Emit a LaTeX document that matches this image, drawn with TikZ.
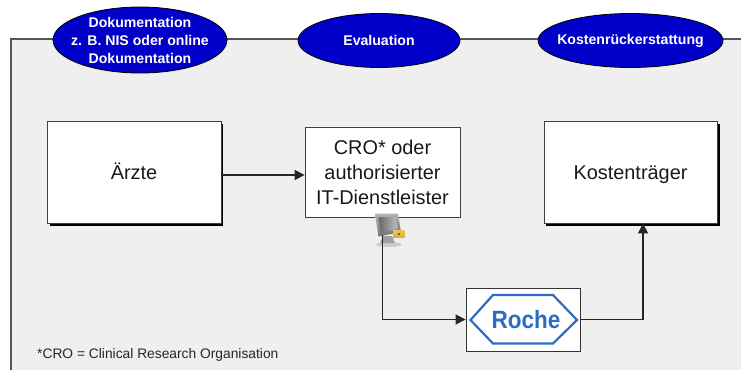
\documentclass[tikz,border=0pt]{standalone}
\usepackage{fontspec}
\setmainfont{Liberation Sans}
\usetikzlibrary{shapes.geometric,arrows.meta}
\definecolor{panelgray}{HTML}{EFEFEF}
\definecolor{rocheblue}{HTML}{0000C8}
\definecolor{logoblue}{HTML}{2B6CC4}
\definecolor{linegray}{HTML}{555555}
\definecolor{lockgold}{HTML}{E8B830}
\tikzset{
  x=1pt,y=-1pt,
  phase/.style={ellipse,draw=black,line width=0.8pt,fill=rocheblue,text=white,inner xsep=-25pt,inner ysep=-12pt,
    font=\fontsize{14.1}{18}\selectfont\bfseries,align=center,minimum width=#1},
  party/.style={rectangle,draw=black!75,line width=0.8pt,fill=white,inner sep=0pt,
    font=\fontsize{19.9}{25}\selectfont,align=center,text=black!90},
  oneline/.style={text height=14pt,text depth=0pt},
  link/.style={draw=black!85,line width=1.1pt,-{Triangle[length=10pt,width=10pt]}},
}
\begin{document}
\begin{tikzpicture}
\useasboundingbox (0,0) rectangle (741,370);
% panel
\fill[panelgray] (11,39) rectangle (741,370);
\draw[linegray,line width=1.1pt] (11,370) -- (11,39) -- (741,39);
% shadows of the boxes
\fill[black] (49.5,124) rectangle (222.5,225.5);
\fill[black] (546,124) rectangle (720,225.5);
% boxes
\node[party,oneline,minimum width=174pt,minimum height=102pt] (aerzte) at (134,172) {Ärzte};
\node[party,minimum width=155pt,minimum height=90pt] (cro) at (382.5,172) {CRO* oder\\authorisierter\\IT-Dienstleister};
\node[party,oneline,minimum width=173pt,minimum height=102pt] (kosten) at (630.5,172) {Kostenträger};
\node[rectangle,draw=black!80,line width=0.8pt,fill=white,inner sep=0pt,minimum width=114pt,minimum height=63pt] (roche) at (523,319.5) {};
% logo
\draw[logoblue,line width=2.2pt,line join=miter] (470.5,320) -- (493,295) -- (553,295) -- (577,320) -- (553,343.5) -- (493,343.5) -- cycle;
\node[text=logoblue,inner sep=0pt,font=\fontsize{25}{25}\selectfont\bfseries,xscale=0.9] (rochetext) at (526,319.5) {Roche};
% ellipses
\node[phase=174pt,minimum height=66pt] (doku) at (140,40) {Dokumentation\\z. B. NIS oder online\\Dokumentation};
\node[phase=162pt,minimum height=54pt] (eval) at (379,40.5) {Evaluation};
\node[phase=185pt,minimum height=54pt] (erstatt) at (630.5,40.5) {Kostenrückerstattung};
% icon: computer with padlock
\coordinate (icon) at (382.5,235);
\fill[gray!40] (389,244.5) ellipse[x radius=13,y radius=2.5];
\fill[gray!75] (383,236) -- (392,236) -- (395,243) -- (380,243) -- cycle;
\shade[top color=black!30,bottom color=black!55] (375,213.5) -- (398,213.5) -- (401,232) -- (378.5,236.5) -- cycle;
\shade[left color=black!60,right color=black!25] (378.5,217) -- (395.5,217) -- (397.5,229) -- (381,232.5) -- cycle;
\draw[gray!65,line width=1.4pt] (394.5,230) arc[start angle=180,end angle=0,radius=4];
\shade[top color=lockgold!80!white,bottom color=lockgold!80!orange] (393,230) rectangle (404.5,237);
\fill[black!65] (398,232.5) rectangle (399.5,234.5);
% connectors
\draw[link] ([yshift=-3pt]aerzte.east) -- (cro.west |- 0,175);
\draw[link] (icon) |- (roche.west);
\draw[link] (roche.east) -| ([xshift=12.5pt]kosten.south);
% footnote
\node[anchor=west,inner sep=0pt,text=black!85,font=\fontsize{13.8}{14}\selectfont] (note) at (37,355) {*CRO = Clinical Research Organisation};
\end{tikzpicture}
\end{document}
